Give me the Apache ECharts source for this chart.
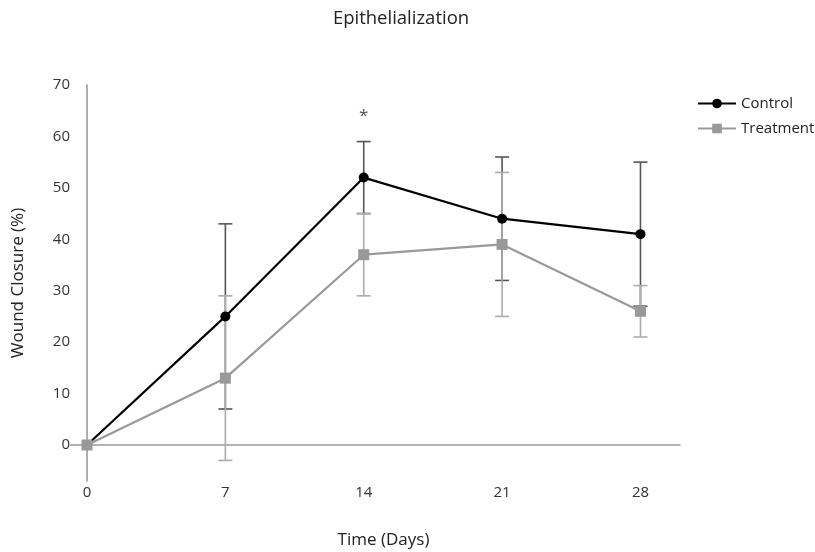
<!DOCTYPE html>
<html>
<head>
<meta charset="utf-8">
<script src="https://cdn.jsdelivr.net/npm/echarts@6/dist/echarts.min.js"></script>
<style>html,body{margin:0;padding:0;background:#fff}#c{width:815px;height:552px}</style>
</head>
<body>
<div id="c"></div>
<script>
const days = [0, 7, 14, 21, 28];
const xTicks = [0, 7, 14, 21, 28];
const yTicks = [0, 10, 20, 30, 40, 50, 60, 70];
const controlMean = [0, 25, 52, 44, 41];
const controlErr = [0, 18, 7, 12, 14];
const treatmentMean = [0, 13, 37, 39, 26];
const treatmentErr = [0, 16, 8, 14, 5];
const sigMarks = [[14, 64, '*']];

const font = 'Open Sans';
const chart = echarts.init(document.getElementById('c'), null, {renderer: 'canvas'});

function errData(mean, err) {
  return days.map((d, i) => [d, mean[i] - err[i], mean[i] + err[i]]).filter((r, i) => err[i] > 0);
}
function errRender(color) {
  return function (params, api) {
    const x = api.value(0);
    const lo = api.coord([x, api.value(1)]);
    const hi = api.coord([x, api.value(2)]);
    const w = 7;
    const style = {stroke: color, lineWidth: 1.6};
    return {
      type: 'group',
      children: [
        {type: 'line', shape: {x1: lo[0], y1: lo[1], x2: hi[0], y2: hi[1]}, style: style},
        {type: 'line', shape: {x1: lo[0] - w, y1: lo[1], x2: lo[0] + w, y2: lo[1]}, style: style},
        {type: 'line', shape: {x1: hi[0] - w, y1: hi[1], x2: hi[0] + w, y2: hi[1]}, style: style}
      ]
    };
  };
}

chart.setOption({
  animation: false,
  title: {
    text: 'Epithelialization', left: 396, top: 4, textAlign: 'center',
    textStyle: {fontFamily: font, fontSize: 18.5, fontWeight: 'normal', color: '#222'}
  },
  legend: {
    orient: 'vertical', left: 692, top: 91, itemWidth: 38, itemHeight: 12, itemGap: 10,
    textStyle: {fontFamily: font, fontSize: 15, color: '#222'},
    data: ['Control', 'Treatment']
  },
  grid: {left: 87, right: 135, top: 85, bottom: 71, containLabel: false, outerBoundsMode: 'none'},
  xAxis: {
    type: 'value', min: 0, max: 30,
    name: 'Time (Days)', nameLocation: 'middle', nameGap: 51,
    nameTextStyle: {fontFamily: font, fontSize: 17, color: '#222'},
    axisLine: {onZero: true, lineStyle: {color: '#9a9a9a', width: 1.6}},
    axisTick: {show: false},
    splitLine: {show: false},
    axisLabel: {customValues: xTicks, margin: 4, fontFamily: font, fontSize: 15, color: '#333'}
  },
  yAxis: {
    type: 'value', min: -7, max: 70,
    name: 'Wound Closure (%)', nameLocation: 'middle', nameGap: 60, nameRotate: 90,
    nameTextStyle: {fontFamily: font, fontSize: 17, color: '#222'},
    axisLine: {show: true, lineStyle: {color: '#9a9a9a', width: 1.6}},
    axisTick: {show: true, customValues: [0], length: 17, lineStyle: {color: '#9a9a9a', width: 1.6}},
    splitLine: {show: false},
    axisLabel: {customValues: yTicks, margin: 17, fontFamily: font, fontSize: 15, color: '#333'}
  },
  series: [
    {
      type: 'custom', name: 'ctrlErr', renderItem: errRender('#555555'),
      data: errData(controlMean, controlErr), z: 1, encode: {x: 0, y: [1, 2]}
    },
    {
      type: 'custom', name: 'trtErr', renderItem: errRender('#ababab'),
      data: errData(treatmentMean, treatmentErr), z: 2, encode: {x: 0, y: [1, 2]}
    },
    {
      type: 'line', name: 'Control', z: 3,
      data: days.map((d, i) => [d, controlMean[i]]),
      symbol: 'circle', symbolSize: 10, showAllSymbol: true,
      lineStyle: {color: '#000000', width: 2.2},
      itemStyle: {color: '#000000'}
    },
    {
      type: 'line', name: 'Treatment', z: 4,
      data: days.map((d, i) => [d, treatmentMean[i]]),
      symbol: 'rect', symbolSize: 11, showAllSymbol: true,
      lineStyle: {color: '#999999', width: 2.2},
      itemStyle: {color: '#999999'}
    },
    {
      type: 'scatter', name: 'sig', z: 5, symbolSize: 0, silent: true,
      data: sigMarks.map(m => [m[0], m[1], m[2]]),
      label: {show: true, position: 'inside', formatter: p => p.value[2],
        fontFamily: font, fontSize: 17, color: '#222'}
    }
  ]
});
</script>
</body>
</html>
